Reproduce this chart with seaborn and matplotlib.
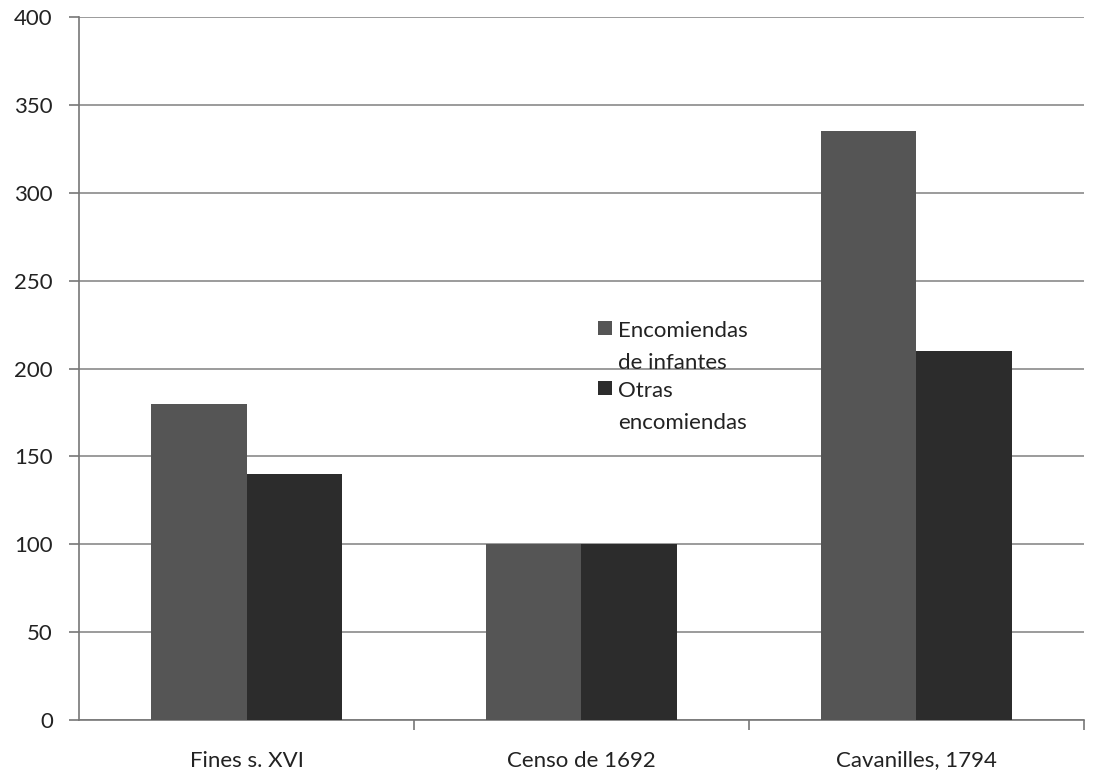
import matplotlib
matplotlib.use("Agg")
import matplotlib.pyplot as plt
import seaborn as sns
import pandas as pd

categories = ["Fines s. XVI", "Censo de 1692", "Cavanilles, 1794"]
series_names = ["Encomiendas\nde infantes", "Otras\nencomiendas"]
encomiendas_infantes = [180, 100, 335]
otras_encomiendas = [140, 100, 210]
y_ticks = [0, 50, 100, 150, 200, 250, 300, 350, 400]

sns.set_theme(style="white")
plt.rcParams["font.family"] = ["Lato", "DejaVu Sans"]

df = pd.DataFrame({
    "categoria": categories * 2,
    "serie": [series_names[0]] * 3 + [series_names[1]] * 3,
    "valor": encomiendas_infantes + otras_encomiendas,
})

fig = plt.figure(figsize=(11, 7.75), dpi=100)
ax = fig.add_axes([0.072, 0.071, 0.913, 0.907])

palette = {series_names[0]: "#555555", series_names[1]: "#2c2c2c"}
sns.barplot(data=df, x="categoria", y="valor", hue="serie", palette=palette,
            width=0.57, saturation=1, ax=ax, zorder=3, linewidth=0)

ax.set_ylim(0, 400)
ax.set_xlim(-0.5, 2.5)
ax.set_yticks(y_ticks)
ax.yaxis.grid(True, color="#8a8a8a", linewidth=1.2, zorder=0)
ax.set_axisbelow(True)
ax.set_xlabel("")
ax.set_ylabel("")

for side in ["top", "right"]:
    ax.spines[side].set_visible(False)
for side in ["left", "bottom"]:
    ax.spines[side].set_color("#777777")
    ax.spines[side].set_linewidth(1.2)

ax.tick_params(axis="y", which="major", left=True, length=7, width=1.2,
               color="#777777", labelsize=16, labelcolor="#222222", pad=12)
ax.tick_params(axis="x", which="major", bottom=False, labelsize=16,
               labelcolor="#222222", pad=16)
ax.set_xticks([0.5, 1.5, 2.5], minor=True)
ax.tick_params(axis="x", which="minor", bottom=True, length=7, width=1.2,
               color="#777777")

leg = ax.legend(loc="upper left", bbox_to_anchor=(0.506, 0.583), frameon=False,
                fontsize=16, handlelength=0.6, handleheight=0.6,
                handletextpad=0.3, labelspacing=0.35, borderpad=0)
for t in leg.get_texts():
    t.set_color("#222222")
    t.set_linespacing(1.75)
# put each swatch beside the first line of its label
for col in leg._legend_handle_box.get_children():
    for row in col.get_children():
        row.align = "top"

fig.savefig("out.png", dpi=100, facecolor="white")
